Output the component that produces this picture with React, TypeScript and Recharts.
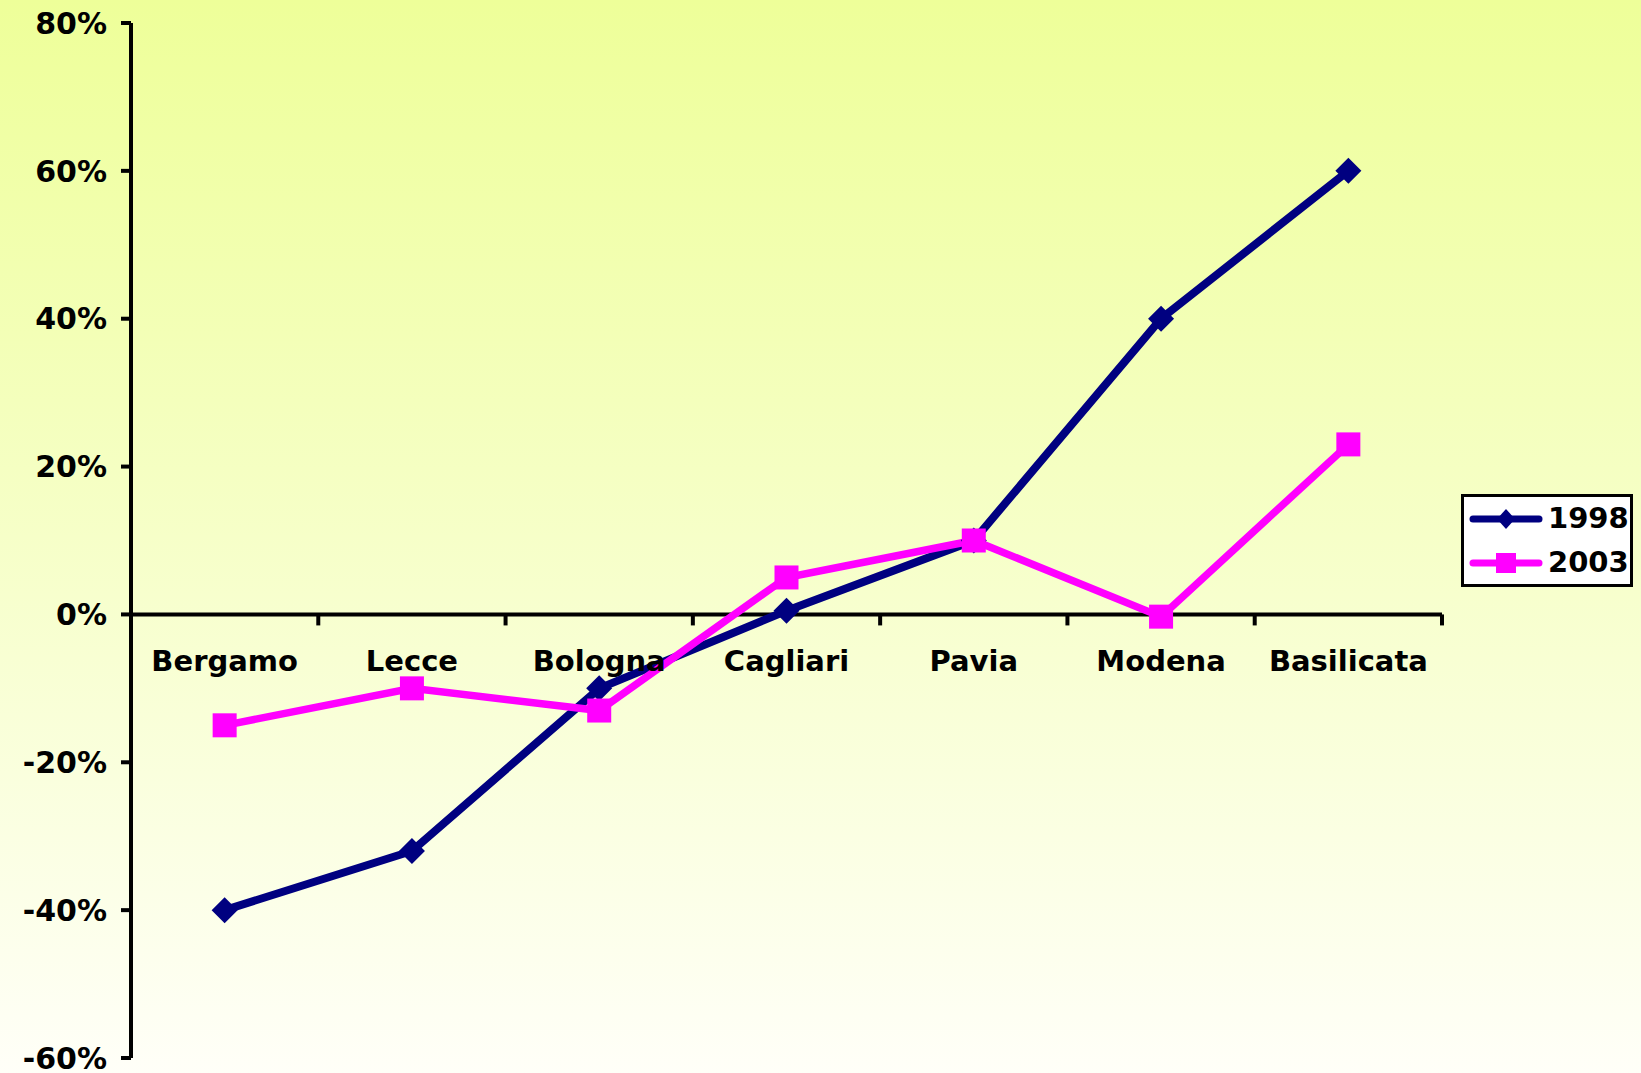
import React from 'react';
import { LineChart, Line, XAxis, YAxis, ReferenceLine, ReferenceDot, Legend } from 'recharts';

const categories = ['Bergamo', 'Lecce', 'Bologna', 'Cagliari', 'Pavia', 'Modena', 'Basilicata'];
const values1998 = [-40, -32, -10, 0.5, 10, 40, 60];
const values2003 = [-15, -10, -13, 5, 10, -0.3, 23];
const yTicks = [-60, -40, -20, 0, 20, 40, 60, 80];

const NAVY = '#000080';
const MAGENTA = '#FF00FF';
const FONT = '"DejaVu Sans", Verdana, sans-serif';

// numeric x so ticks can sit on category boundaries like the original
const data = categories.map((name, i) => ({
  x: i + 0.5,
  name,
  v1998: values1998[i],
  v2003: values2003[i],
}));
const boundaries = categories.map((_, i) => i + 1);

const Diamond = (props: any) => {
  const { cx, cy, fill, size = 13 } = props;
  if (cx == null || cy == null) return null;
  return (
    <polygon
      points={`${cx},${cy - size} ${cx + size},${cy} ${cx},${cy + size} ${cx - size},${cy}`}
      fill={fill}
    />
  );
};

const Square = (props: any) => {
  const { cx, cy, fill, size = 12 } = props;
  if (cx == null || cy == null) return null;
  return <rect x={cx - size} y={cy - size} width={size * 2} height={size * 2} fill={fill} />;
};

const TickMark = (props: any) => {
  const { cx, cy } = props;
  if (cx == null || cy == null) return null;
  return <line x1={cx} y1={cy} x2={cx} y2={cy + 11} stroke="#000" strokeWidth={4} />;
};

const LegendBox = () => {
  const rows = [
    { label: '1998', color: NAVY, marker: 'diamond' },
    { label: '2003', color: MAGENTA, marker: 'square' },
  ];
  return (
    <div
      style={{
        width: 166,
        height: 87,
        border: '3px solid #000',
        background: '#fff',
        boxSizing: 'content-box',
      }}
    >
      {rows.map((r, i) => (
        <div key={r.label} style={{ display: 'flex', alignItems: 'center', height: 43, marginTop: i === 0 ? 0 : 1 }}>
          <svg width={84} height={30} style={{ display: 'block' }}>
            <line x1={9} y1={15} x2={75} y2={15} stroke={r.color} strokeWidth={7} strokeLinecap="round" />
            {r.marker === 'diamond' ? (
              <polygon points="42,5 51,15 42,25 33,15" fill={r.color} />
            ) : (
              <rect x={32} y={5} width={20} height={20} fill={r.color} />
            )}
          </svg>
          <span style={{ fontFamily: FONT, fontWeight: 'bold', fontSize: 29, color: '#000', lineHeight: 1 }}>
            {r.label}
          </span>
        </div>
      ))}
    </div>
  );
};

export default function App() {
  return (
    <div
      style={{
        position: 'absolute',
        left: 0,
        top: 0,
        width: 1641,
        height: 1073,
        background: 'linear-gradient(to bottom, #EEFF99 0%, #F6FFC8 50%, #FFFFF8 100%)',
      }}
    >
      <LineChart
        width={1641}
        height={1073}
        data={data}
        margin={{ top: 23, right: 199, bottom: 15, left: 0 }}
      >
        <XAxis type="number" dataKey="x" domain={[0, 7]} hide />
        <YAxis
          type="number"
          domain={[-60, 80]}
          ticks={yTicks}
          interval={0}
          width={131}
          tickFormatter={(v) => `${v}%`}
          axisLine={{ stroke: '#000', strokeWidth: 4 }}
          tickLine={{ stroke: '#000', strokeWidth: 4 }}
          tickSize={10}
          tickMargin={14}
          tick={{ fill: '#000', fontSize: 30, fontWeight: 'bold', fontFamily: FONT }}
        />
        <ReferenceLine y={0} stroke="#000" strokeWidth={4} />
        {boundaries.map((b) => (
          <ReferenceDot key={`t${b}`} x={b} y={0} r={0} shape={<TickMark />} />
        ))}
        {data.map((d) => (
          <ReferenceDot
            key={d.name}
            x={d.x}
            y={0}
            r={0}
            fill="none"
            stroke="none"
            label={{
              value: d.name,
              position: 'bottom',
              offset: 36,
              fill: '#000',
              fontSize: 29,
              fontWeight: 'bold',
              fontFamily: FONT,
            }}
          />
        ))}
        <Legend
          layout="vertical"
          align="center"
          verticalAlign="middle"
          content={<LegendBox />}
          wrapperStyle={{ position: 'absolute', left: 1461, top: 494, width: 172, height: 93 }}
        />
        <Line
          name="1998"
          type="linear"
          dataKey="v1998"
          stroke={NAVY}
          strokeWidth={8}
          dot={<Diamond fill={NAVY} />}
          activeDot={false}
          isAnimationActive={false}
        />
        <Line
          name="2003"
          type="linear"
          dataKey="v2003"
          stroke={MAGENTA}
          strokeWidth={7.5}
          dot={<Square fill={MAGENTA} />}
          activeDot={false}
          isAnimationActive={false}
        />
      </LineChart>
    </div>
  );
}
